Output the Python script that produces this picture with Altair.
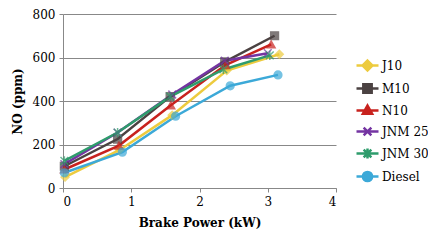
import altair as alt
import pandas as pd

series = ["J10", "M10", "N10", "JNM 25", "JNM 30", "Diesel"]
colors = ["#EDCB3E", "#4B4242", "#C8221E", "#7434A2", "#2E9C6C", "#3CA9D8"]
shapes = [
    "diamond",
    "square",
    "triangle-up",
    "M-1,-1L1,1M-1,1L1,-1",
    "M-1,-1L1,1M-1,1L1,-1M0,-1.2L0,1.2",
    "circle",
]
legend_shapes = [
    "M-1,0L1,0M0,-0.45L0.45,0L0,0.45L-0.45,0Z",
    "M-1,0L1,0M-0.38,-0.38L0.38,-0.38L0.38,0.38L-0.38,0.38Z",
    "M-1,0L1,0M0,-0.45L0.42,0.3L-0.42,0.3Z",
    "M-1,0L1,0M-0.35,-0.35L0.35,0.35M-0.35,0.35L0.35,-0.35",
    "M-1,0L1,0M-0.35,-0.35L0.35,0.35M-0.35,0.35L0.35,-0.35M0,-0.45L0,0.45",
    "M-1,0L1,0M-0.42,0A0.42,0.42,0,1,0,0.42,0A0.42,0.42,0,1,0,-0.42,0Z",
]

bp_j10 = [0.03, 0.83, 1.60, 2.40, 3.17]
no_j10 = [50, 175, 335, 540, 615]
bp_m10 = [0.02, 0.80, 1.57, 2.37, 3.10]
no_m10 = [100, 225, 420, 580, 700]
bp_n10 = [0.02, 0.82, 1.58, 2.38, 3.05]
no_n10 = [85, 195, 380, 565, 660]
bp_jnm25 = [0.02, 0.80, 1.60, 2.37, 3.00]
no_jnm25 = [110, 255, 430, 585, 620]
bp_jnm30 = [0.02, 0.80, 1.57, 2.35, 3.03]
no_jnm30 = [125, 255, 420, 545, 610]
bp_diesel = [0.02, 0.87, 1.65, 2.45, 3.15]
no_diesel = [70, 165, 330, 470, 520]

xs = [bp_j10, bp_m10, bp_n10, bp_jnm25, bp_jnm30, bp_diesel]
ys = [no_j10, no_m10, no_n10, no_jnm25, no_jnm30, no_diesel]

rows = []
for name, shp, xv, yv in zip(series, shapes, xs, ys):
    for a, b in zip(xv, yv):
        rows.append({"Fuel": name, "shp": shp, "bp": a, "no": b})
df = pd.DataFrame(rows)

font = "DejaVu Serif"
xenc = alt.X("bp:Q", scale=alt.Scale(domain=[0, 4]),
             axis=alt.Axis(values=[0, 1, 2, 3, 4], title="Brake Power (kW)", grid=False))
yenc = alt.Y("no:Q", scale=alt.Scale(domain=[0, 800]),
             axis=alt.Axis(values=[0, 200, 400, 600, 800], title="NO (ppm)", grid=True))
cscale = alt.Scale(domain=series, range=colors)

leg = alt.Legend(title=None, orient="none", legendX=292, legendY=39,
                 labelFont=font, labelFontSize=12, labelColor="#000", labelOffset=2,
                 rowPadding=0, symbolSize=484, symbolStrokeWidth=2.5, symbolOpacity=1)
col = alt.Color("Fuel:N", scale=cscale, sort=series, legend=leg)

lines = alt.Chart(df).mark_line(strokeWidth=2.5).encode(
    x=xenc, y=yenc, color=col, detail="Fuel:N")
points = alt.Chart(df).mark_point(filled=True, size=60, strokeWidth=1.5).encode(
    x=xenc, y=yenc, color=col,
    stroke=alt.Stroke("Fuel:N", scale=cscale, sort=series, legend=leg),
    shape=alt.Shape("shp:N", scale=None, legend=None))
legend_layer = alt.Chart(df).transform_filter("false").mark_point(filled=True, strokeWidth=2.5).encode(
    x=xenc, y=yenc, color=col,
    stroke=alt.Stroke("Fuel:N", scale=cscale, sort=series, legend=leg),
    shape=alt.Shape("Fuel:N", scale=alt.Scale(domain=series, range=legend_shapes),
                    sort=series, legend=leg),
)

chart = alt.layer(lines, points, legend_layer).properties(
    width=273, height=174,
    autosize=alt.AutoSizeParams(type="none"),
    padding={"left": 55, "top": 6, "right": 92, "bottom": 48},
).configure_view(stroke=None).configure_axis(
    labelFont=font, labelFontSize=12, labelColor="#000",
    titleFont=font, titleFontSize=12, titleFontWeight="bold", titleColor="#000",
    domainColor="#888", tickColor="#888", gridColor="#888", tickSize=4,
    labelPadding=4,
).configure_axisY(titlePadding=8).configure_axisX(titlePadding=10)

chart.save("out.html", embed_options={"renderer": "svg", "actions": False})
